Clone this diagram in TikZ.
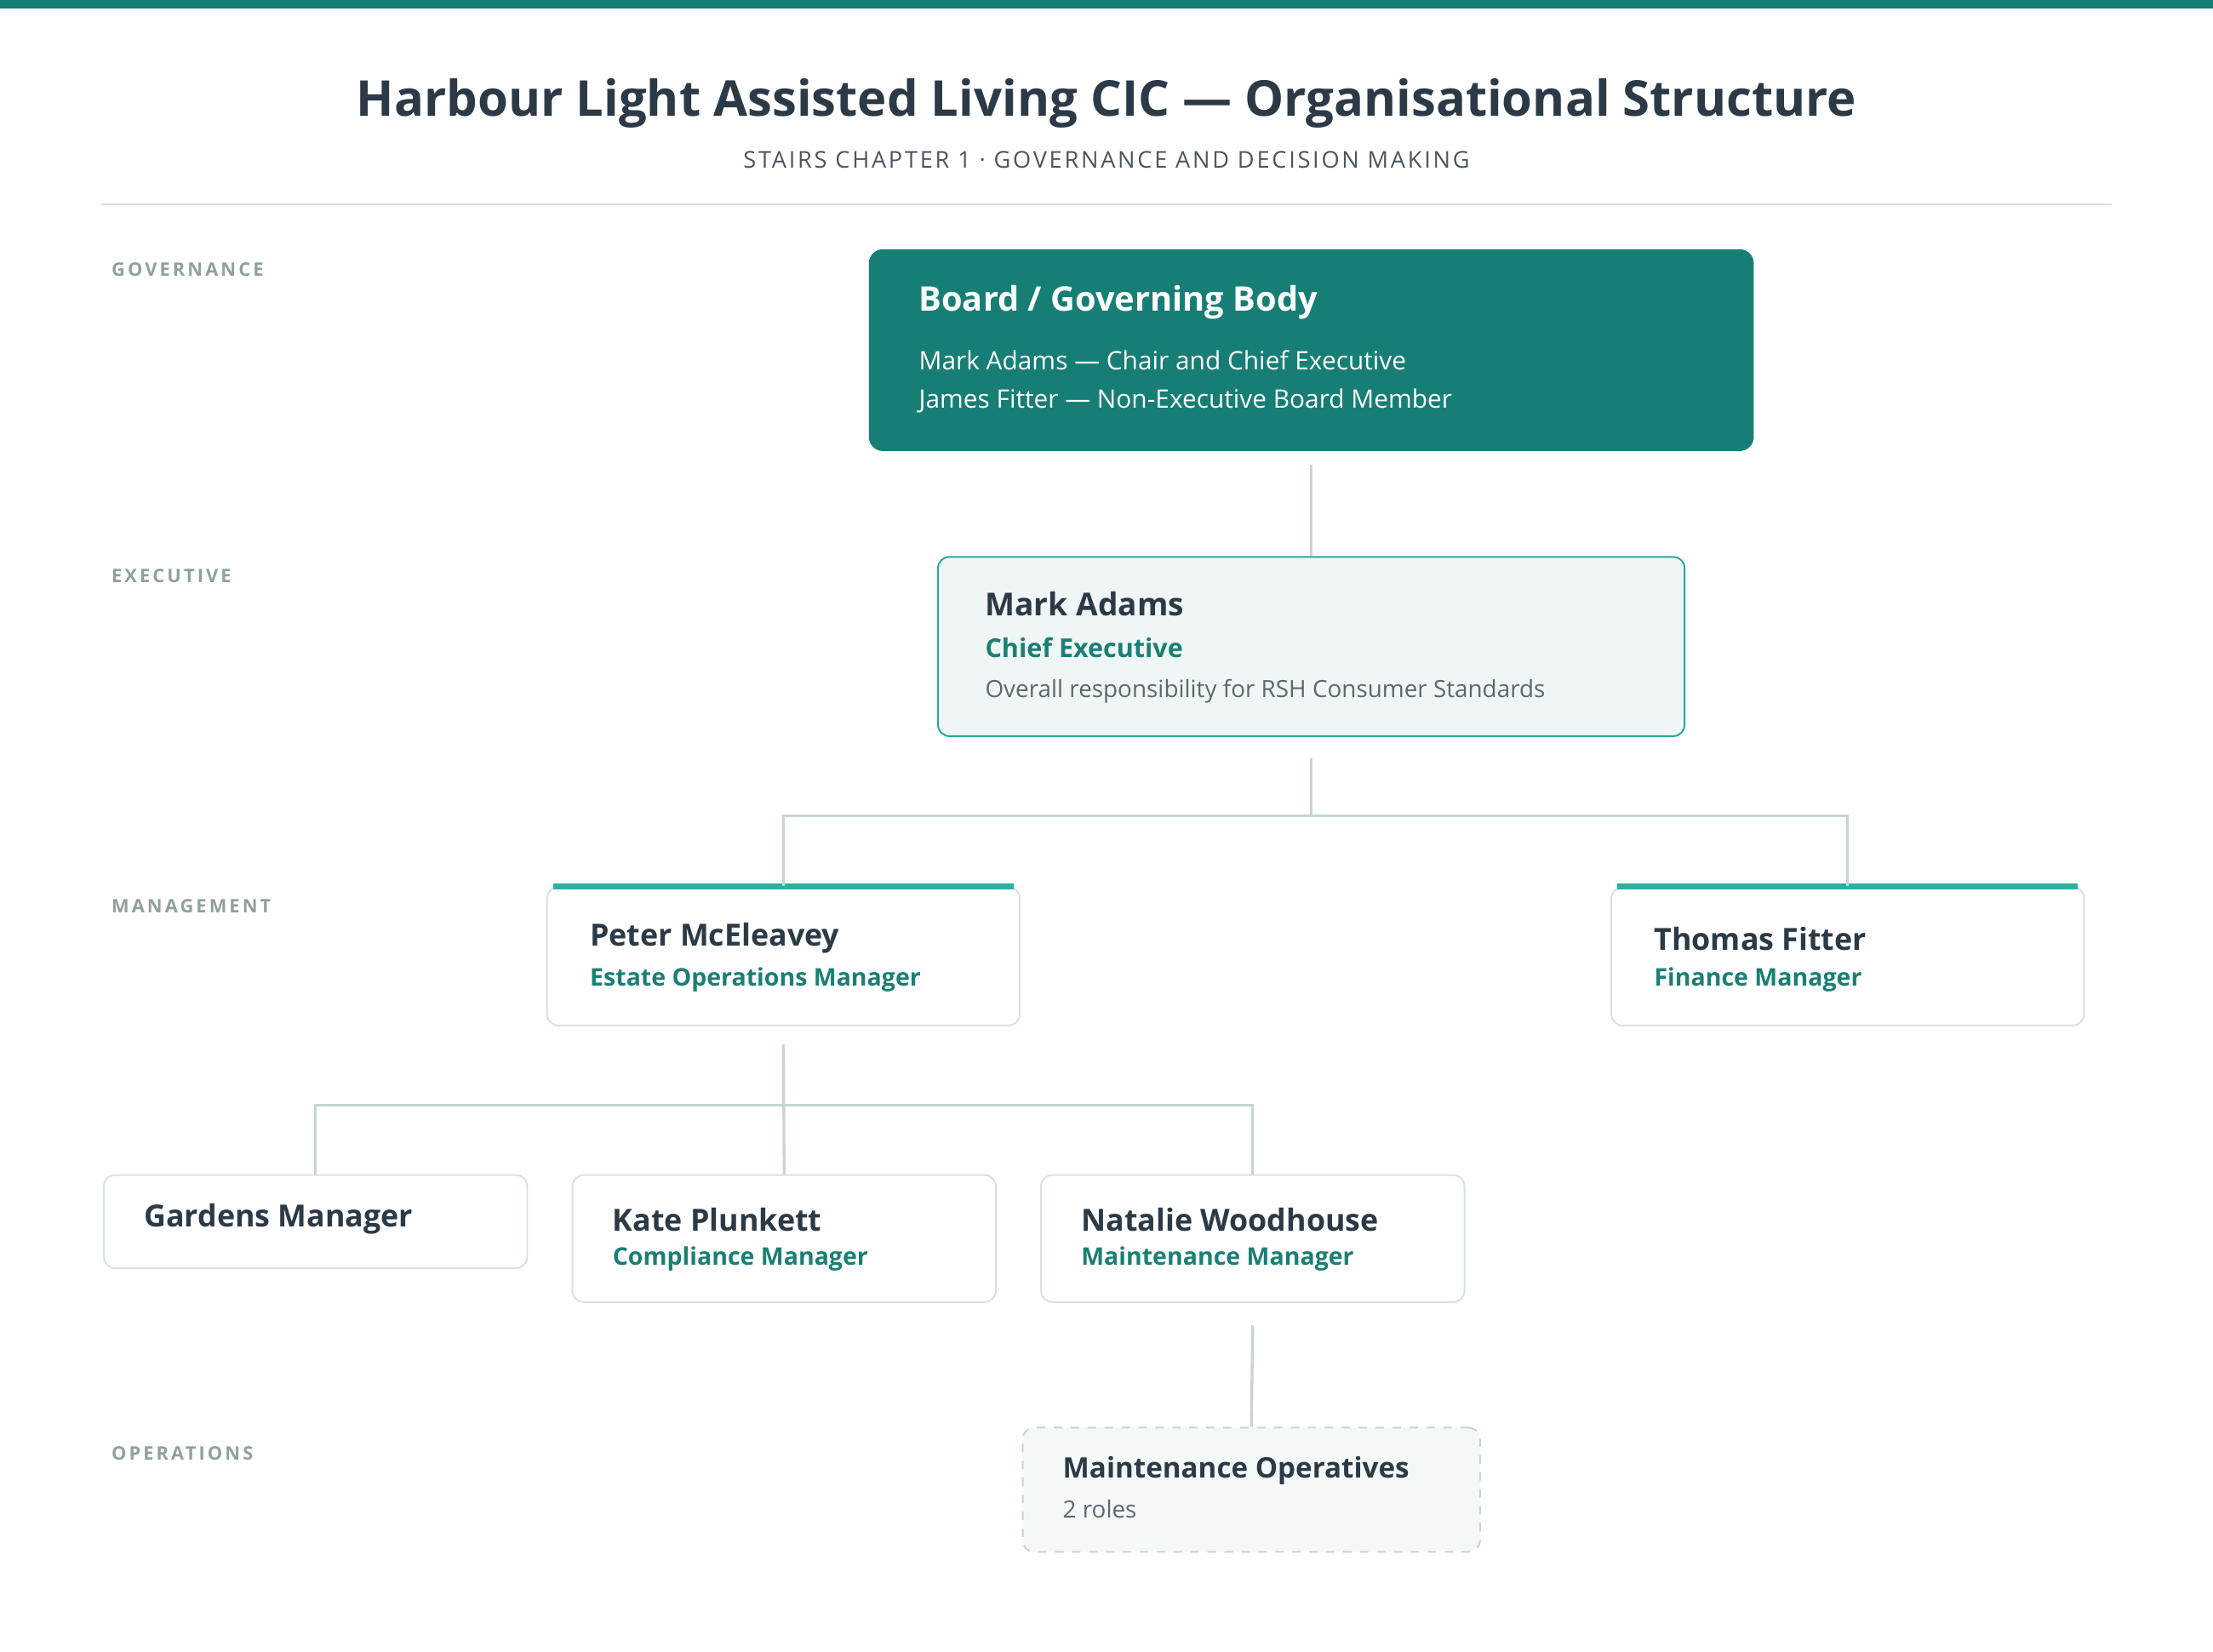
\documentclass[tikz,border=0pt]{standalone}
\usepackage{fontspec}
\setmainfont{Open Sans}
\definecolor{teal}{HTML}{177E76}
\definecolor{dark}{HTML}{2C3A47}
\definecolor{tealtxt}{HTML}{1A7F74}
\definecolor{desc}{HTML}{5C6770}
\definecolor{tier}{HTML}{8FA09D}
\definecolor{bord}{HTML}{D6E2E0}
\definecolor{exbord}{HTML}{2AA89A}
\definecolor{acc}{HTML}{2BB0A0}
\definecolor{conn}{HTML}{C5D5D3}
\definecolor{lite}{HTML}{EFF6F5}
\definecolor{sub}{HTML}{4A5560}
\begin{document}
\begin{tikzpicture}[x=0.5pt,y=-0.5pt,
  box/.style={draw=bord,line width=0.6pt,rounded corners=4pt,fill=white,anchor=north west,inner sep=0pt},
  tierlbl/.style={anchor=west,text=tier,font=\fontsize{6.6}{8}\selectfont\bfseries\addfontfeatures{LetterSpace=14}},
  nm/.style={anchor=west,text=dark,font=\fontsize{10.8}{13}\selectfont\bfseries},
  role/.style={anchor=west,text=tealtxt,font=\fontsize{8.6}{10}\selectfont\bfseries},
  cn/.style={draw=conn,line width=1pt}]
\useasboundingbox (0,0) rectangle (1568,1170);
\fill[teal] (0,0) rectangle (1568,6);
\node[anchor=center,text=dark,font=\fontsize{17.5}{21}\selectfont\bfseries] (title) at (784,73) {Harbour Light Assisted Living CIC — Organisational Structure};
\node[anchor=center,text=sub,font=\fontsize{8.2}{10}\selectfont\addfontfeatures{LetterSpace=10}] (subt) at (784,113) {STAIRS CHAPTER 1 · GOVERNANCE AND DECISION MAKING};
\draw[bord,line width=0.6pt] (72,145) -- (1496,145);
\node[tierlbl] (t1) at (72,191) {GOVERNANCE};
\node[tierlbl] (t2) at (72,408) {EXECUTIVE};
\node[tierlbl] (t3) at (72,642) {MANAGEMENT};
\node[tierlbl] (t4) at (72,1030) {OPERATIONS};
% Board
\node[box,draw=none,fill=teal,rounded corners=5pt,minimum width=313.5pt,minimum height=71.5pt] (board) at (615,176) {};
\node[anchor=west,text=white,font=\fontsize{12}{14}\selectfont\bfseries] (bt) at (644,214) {Board / Governing Body};
\node[anchor=west,text=white,font=\fontsize{9}{11}\selectfont] (b1) at (644,255) {Mark Adams — Chair and Chief Executive};
\node[anchor=west,text=white,font=\fontsize{9}{11}\selectfont] (b2) at (644,284) {James Fitter — Non-Executive Board Member};
% Exec
\node[box,draw=exbord,fill=lite,minimum width=264.5pt,minimum height=63.5pt] (exec) at (664,394) {};
\node[nm,font=\fontsize{11.2}{13}\selectfont\bfseries] (en) at (691,428) {Mark Adams};
\node[role,font=\fontsize{9.2}{11}\selectfont\bfseries] (er) at (691,459) {Chief Executive};
\node[anchor=west,text=desc,font=\fontsize{8.4}{10}\selectfont] (ed) at (691,490) {Overall responsibility for RSH Consumer Standards};
% Management
\node[box,minimum width=167.5pt,minimum height=49pt] (peter) at (387,628) {};
\node[box,minimum width=167.5pt,minimum height=49pt] (thomas) at (1141,628) {};
\draw[acc,line width=2pt] ([xshift=2.5pt]peter.north west) -- ([xshift=-2.5pt]peter.north east);
\draw[acc,line width=2pt] ([xshift=2.5pt]thomas.north west) -- ([xshift=-2.5pt]thomas.north east);
\node[nm] (pn) at (411,665) {Peter McEleavey};
\node[role] (pr) at (411,694) {Estate Operations Manager};
\node[nm] (tn) at (1165,665) {Thomas Fitter};
\node[role] (tr) at (1165,694) {Finance Manager};
% Level 4
\node[box,minimum width=150pt,minimum height=33pt] (gardens) at (73,832) {};
\node[box,minimum width=150pt,minimum height=45pt] (kate) at (405,832) {};
\node[box,minimum width=150pt,minimum height=45pt] (natalie) at (737,832) {};
\node[nm] (gn) at (95,864) {Gardens Manager};
\node[nm] (kn) at (427,864) {Kate Plunkett};
\node[role] (kr) at (427,892) {Compliance Manager};
\node[nm] (nn) at (759,864) {Natalie Woodhouse};
\node[role] (nr) at (759,892) {Maintenance Manager};
% Ops
\node[box,fill=lite!70,dashed,draw=conn,minimum width=162pt,minimum height=44pt] (ops) at (724,1011) {};
\node[nm,font=\fontsize{10}{12}\selectfont\bfseries] (on) at (746,1042) {Maintenance Operatives};
\node[anchor=west,text=desc,font=\fontsize{8.4}{10}\selectfont] (oc) at (746,1069) {2 roles};
% connectors
\draw[cn] ([yshift=-4.5pt]board.south) -- (exec.north);
\draw[cn] ([yshift=-7.5pt]exec.south) -- ++(0,-20.5pt) -| (peter.north);
\draw[cn] ([yshift=-7.5pt]exec.south) -- ++(0,-20.5pt) -| (thomas.north);
\draw[cn] ([yshift=-6.5pt]peter.south) -- ++(0,-21.5pt) -| (gardens.north);
\draw[cn] ([yshift=-6.5pt]peter.south) -- (kate.north);
\draw[cn] ([yshift=-6.5pt]peter.south) -- ++(0,-21.5pt) -| (natalie.north);
\draw[cn] ([yshift=-8pt]natalie.south) -- (ops.north);
\end{tikzpicture}
\end{document}
